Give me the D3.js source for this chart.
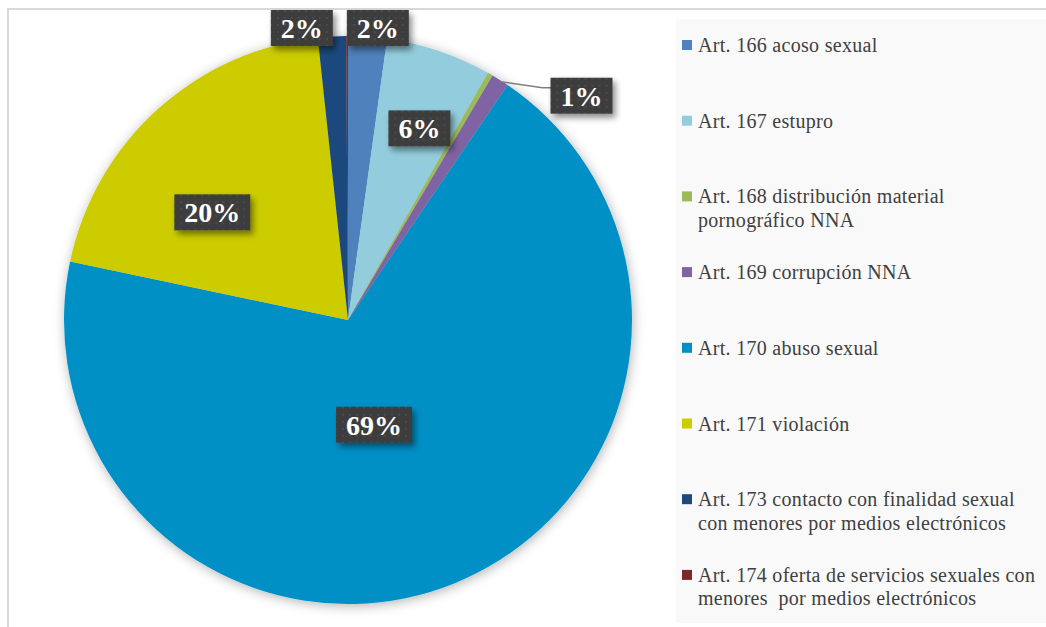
<!DOCTYPE html>
<html>
<head>
<meta charset="utf-8">
<script src="https://cdn.jsdelivr.net/npm/d3@7"></script>
<style>
  body { margin: 0; background: #fff; }
  svg { display: block; }
</style>
</head>
<body>
<div id="chart"></div>
<script>
// categories, in pie order (clockwise from 12 o'clock)
const articles = ["Art. 166", "Art. 167", "Art. 168", "Art. 169", "Art. 170", "Art. 171", "Art. 173", "Art. 174"];
const legendLines = [
  ["Art. 166 acoso sexual"],
  ["Art. 167 estupro"],
  ["Art. 168 distribución material", "pornográfico NNA"],
  ["Art. 169 corrupción NNA"],
  ["Art. 170 abuso sexual"],
  ["Art. 171 violación"],
  ["Art. 173 contacto con finalidad sexual", "con menores por medios electrónicos"],
  ["Art. 174 oferta de servicios sexuales con", "menores  por medios electrónicos"]
];
// share of cases (%)
const shares = [2.2, 6.0, 0.3, 1.0, 68.8, 20.0, 1.6, 0.1];
const colors = ["#4f81bd", "#93cddd", "#9bbb59", "#8064a2", "#0090c6", "#cccc00", "#1f497d", "#7b2a2a"];

const W = 1046, H = 627;
const cx = 348, cy = 320, R = 284;

const svg = d3.select("#chart").append("svg")
  .attr("width", W).attr("height", H);

const defs = svg.append("defs");

// dotted dark fill of the data labels
const pat = defs.append("pattern")
  .attr("id", "dots")
  .attr("width", 7).attr("height", 7)
  .attr("patternUnits", "userSpaceOnUse");
pat.append("rect").attr("width", 7).attr("height", 7).attr("fill", "#3d3d3d");
pat.append("rect").attr("x", 3).attr("y", 3).attr("width", 2).attr("height", 2).attr("fill", "#4b4b4b");

const pieShadow = defs.append("filter").attr("id", "pieShadow")
  .attr("x", "-10%").attr("y", "-10%").attr("width", "120%").attr("height", "120%");
pieShadow.append("feDropShadow")
  .attr("dx", 1).attr("dy", 2).attr("stdDeviation", 6)
  .attr("flood-color", "#000").attr("flood-opacity", 0.3);

const boxShadow = defs.append("filter").attr("id", "boxShadow")
  .attr("x", "-30%").attr("y", "-30%").attr("width", "160%").attr("height", "170%");
boxShadow.append("feDropShadow")
  .attr("dx", 3).attr("dy", 4).attr("stdDeviation", 3)
  .attr("flood-color", "#000").attr("flood-opacity", 0.45);

// chart area border
svg.append("rect")
  .attr("x", 8).attr("y", 9)
  .attr("width", W + 20).attr("height", H + 20)
  .attr("fill", "#fff")
  .attr("stroke", "#d9d9d9").attr("stroke-width", 2);

// legend panel
svg.append("rect")
  .attr("x", 676).attr("y", 19)
  .attr("width", W - 676 + 10).attr("height", 604)
  .attr("fill", "#f9f9f9");

// pie
const pie = d3.pie().sort(null).value(d => d);
const arcs = pie(shares);
const total = d3.sum(shares);

const arc = d3.arc().innerRadius(0).outerRadius(R);

const g = svg.append("g").attr("transform", `translate(${cx},${cy})`);

g.append("g")
  .attr("filter", "url(#pieShadow)")
  .selectAll("path")
  .data(arcs)
  .join("path")
  .attr("d", arc)
  .attr("fill", (d, i) => colors[i]);

// data labels ("best fit" placement, roughly as the spreadsheet does it)
const pctFmt = v => Math.round(v / total * 100) + "%";

function labelPlace(d) {
  const a = (d.startAngle + d.endAngle) / 2;
  const share = d.value / total;
  let r, a2 = a;
  if (share > 0.5) { r = R * 0.38; a2 = a + 0.14; }
  else if (share > 0.1) { r = R * 0.61; a2 = a - 0.165; }
  else if (share > 0.03) { r = R * 0.72; a2 = a + 0.03; }
  else r = R * 1.03;
  let x = Math.sin(a2) * r, y = -Math.cos(a2) * r;
  let leader = false;
  if (share <= 0.03 && Math.abs(x) > 60) {
    // small slice off to the side: pull out and draw a leader line
    a2 = a + 0.24;
    x = Math.sin(a2) * R * 1.14;
    y = -Math.cos(a2) * R * 1.14;
    leader = true;
  }
  return {x, y, a, leader};
}

const labelData = arcs
  .map((d, i) => Object.assign({i, text: pctFmt(d.value)}, labelPlace(d)))
  .filter(d => shares[d.i] / total >= 0.005);

// spread out the small labels sitting at the top of the pie
const topLabels = labelData.filter(d => shares[d.i] / total <= 0.03 && !d.leader);
if (topLabels.length === 2) {
  const mid = (topLabels[0].x + topLabels[1].x) / 2;
  topLabels.sort((a, b) => a.x - b.x);
  topLabels[0].x = mid - 48;
  topLabels[1].x = mid + 28;
  topLabels.forEach(d => d.y = -R - 8);
}

// leader lines
labelData.filter(d => d.leader).forEach(d => {
  const ex = Math.sin(d.a) * R * 0.995, ey = -Math.cos(d.a) * R * 0.995;
  g.append("path")
    .attr("d", d3.line()([[ex, ey], [d.x - 39, d.y - 8], [d.x - 29, d.y - 8]]))
    .attr("fill", "none")
    .attr("stroke", "#7f7f7f")
    .attr("stroke-width", 1.5);
});

const lab = g.selectAll("g.lab")
  .data(labelData)
  .join("g")
  .attr("class", "lab")
  .attr("transform", d => `translate(${d.x},${d.y})`);

lab.append("rect")
  .attr("fill", "url(#dots)")
  .attr("filter", "url(#boxShadow)");

const labText = lab.append("text")
  .attr("text-anchor", "middle")
  .attr("dy", "0.35em")
  .attr("fill", "#fff")
  .style("font-family", "'Liberation Serif', 'DejaVu Serif', serif")
  .style("font-weight", "bold")
  .style("font-size", "28px")
  .text(d => d.text);

labText.each(function(d) {
  const w = this.getComputedTextLength();
  d3.select(this.parentNode).select("rect")
    .attr("x", -w / 2 - 10).attr("y", -18)
    .attr("width", w + 20).attr("height", 36);
});

// legend
const legendTop = 45, legendStep = 75.7, lineH = 23.5;
const leg = svg.append("g").selectAll("g")
  .data(legendLines)
  .join("g")
  .attr("transform", (d, i) => `translate(682,${legendTop + i * legendStep})`);

leg.append("rect")
  .attr("x", 0).attr("y", -5)
  .attr("width", 10).attr("height", 10)
  .attr("fill", (d, i) => colors[i]);

leg.append("text")
  .attr("x", 16)
  .attr("fill", "#404040")
  .style("font-family", "'Liberation Serif', 'DejaVu Serif', serif")
  .style("font-size", "20px")
  .style("letter-spacing", "0.3px")
  .style("white-space", "pre")
  .selectAll("tspan")
  .data(d => d)
  .join("tspan")
  .attr("x", 16)
  .attr("y", (d, j) => j * lineH)
  .attr("dy", "0.35em")
  .text(d => d);
</script>
</body>
</html>
